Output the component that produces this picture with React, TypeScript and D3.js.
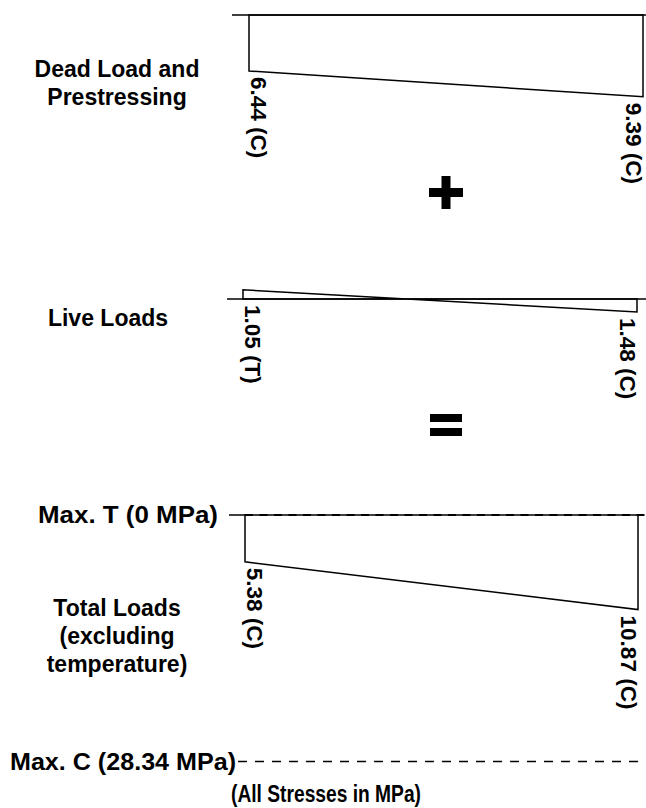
import { useEffect, useRef } from 'react';
import * as d3 from 'd3';

// stresses in MPa, compression positive (drawn downward), tension negative
const panelTitles = [
  ['Dead Load and', 'Prestressing'],
  ['Live Loads'],
  ['Total Loads', '(excluding', 'temperature)'],
];
const leftStress = [6.44, -1.05, 5.38];
const rightStress = [9.39, 1.48, 10.87];
const leftLabels = ['6.44 (C)', '1.05 (T)', '5.38 (C)'];
const rightLabels = ['9.39 (C)', '1.48 (C)', '10.87 (C)'];
const limitValues = [0, 28.34];
const limitLabels = ['Max. T (0 MPa)', 'Max. C (28.34 MPa)'];
const operators = ['+', '='];
const note = '(All Stresses in MPa)';

const W = 646;
const H = 808;
const FONT = '"Liberation Sans", Arial, Helvetica, sans-serif';

export default function App() {
  const svgRef = useRef<SVGSVGElement>(null);

  useEffect(() => {
    if (!svgRef.current) return;
    const svg = d3.select(svgRef.current);
    svg.selectAll('*').remove();

    // vertical stress scale, shared by all three diagrams
    const stress = d3.scaleLinear().domain([0, 28.34]).range([0, 246.6]);
    const baselines = [15, 299, 515];
    const spans: [number, number][] = [[249, 643], [243, 637], [245, 638]];
    const lineStarts = [232, 227, 229];
    const titleY = [77, 326, 616];
    const titleX = [117, 108, 117];

    const g = svg.append('g');

    const txt = (x: number, y: number, s: string, anchor = 'middle', rot = 0, size = 22, len = 0) => {
      const t = g.append('text')
        .attr('transform', `translate(${x},${y})${rot ? ` rotate(${rot})` : ''}`)
        .attr('text-anchor', anchor)
        .attr('font-family', FONT)
        .attr('font-weight', 'bold')
        .attr('font-size', size)
        .attr('fill', '#000')
        .text(s);
      if (len) t.attr('textLength', len).attr('lengthAdjust', 'spacingAndGlyphs');
      return t;
    };

    panelTitles.forEach((lines, i) => {
      const x = d3.scaleLinear().domain([0, 1]).range(spans[i]);
      const y0 = baselines[i];
      const yl = y0 + stress(leftStress[i]);
      const yr = y0 + stress(rightStress[i]);

      // baseline (zero stress)
      g.append('line')
        .attr('x1', lineStarts[i]).attr('x2', i < 2 ? W : x(0))
        .attr('y1', y0).attr('y2', y0)
        .attr('stroke', '#000').attr('stroke-width', 1.5);

      const pts: [number, number][] = [
        [x(0), y0], [x(0), yl], [x(1), yr], [x(1), y0],
      ];
      g.append('path')
        .attr('d', d3.line()(pts) + 'Z')
        .attr('fill', 'none')
        .attr('stroke', '#000')
        .attr('stroke-width', 1.5)
        .attr('stroke-linejoin', 'miter');

      // stress values, rotated
      const lyl = Math.max(yl, y0) + 6;
      const lyr = Math.max(yr, y0) + 6;
      txt(x(0) + 2, lyl, leftLabels[i], 'start', 90, 22.5);
      txt(x(1) - 17, lyr, rightLabels[i], 'start', 90, 22.5);

      lines.forEach((s, j) => txt(titleX[i], titleY[i] + j * 28, s, 'middle', 0, 23));
    });

    // allowable stress limits
    const limY = d3.scaleLinear().domain([0, 28.34]).range([515, 515 + stress(28.34)]);
    g.append('line')
      .attr('x1', spans[2][0]).attr('x2', W)
      .attr('y1', limY(limitValues[0])).attr('y2', limY(limitValues[0]))
      .attr('stroke', '#000').attr('stroke-width', 2)
      .attr('stroke-dasharray', '8,6.5');
    txt(218, limY(limitValues[0]) + 8, limitLabels[0], 'end', 0, 23.5, 180);

    g.append('line')
      .attr('x1', 238).attr('x2', W)
      .attr('y1', limY(limitValues[1])).attr('y2', limY(limitValues[1]))
      .attr('stroke', '#000').attr('stroke-width', 1.5)
      .attr('stroke-dasharray', '9,8');
    txt(236, limY(limitValues[1]) + 8, limitLabels[1], 'end', 0, 23.5, 226);

    txt(326, 802, note, 'middle', 0, 23, 190);

    // + and = between the diagrams
    const opY = [192, 425];
    operators.forEach((op, i) => {
      const cx = 446;
      const cy = opY[i];
      if (op === '+') {
        g.append('rect').attr('x', cx - 17).attr('y', cy - 4).attr('width', 34).attr('height', 9).attr('fill', '#000');
        g.append('rect').attr('x', cx - 4.5).attr('y', cy - 16).attr('width', 9).attr('height', 33).attr('fill', '#000');
      } else {
        g.append('rect').attr('x', cx - 16).attr('y', cy - 11).attr('width', 32).attr('height', 8).attr('fill', '#000');
        g.append('rect').attr('x', cx - 16).attr('y', cy + 3).attr('width', 32).attr('height', 8).attr('fill', '#000');
      }
    });
  }, []);

  return (
    <svg
      ref={svgRef}
      width={W}
      height={H}
      style={{ position: 'absolute', left: 0, top: 0, background: '#fff' }}
    />
  );
}
